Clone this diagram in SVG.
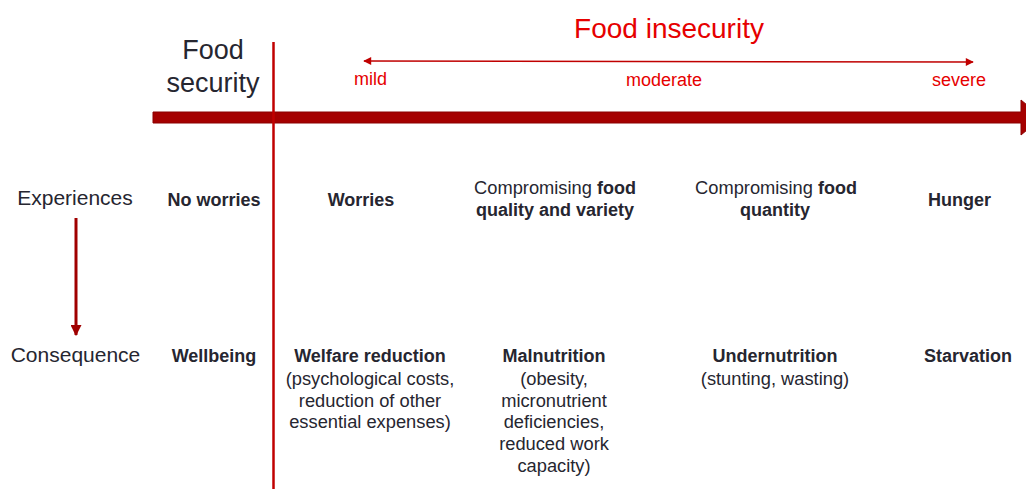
<svg xmlns="http://www.w3.org/2000/svg" width="1026" height="489" viewBox="0 0 1026 489">
<style>
text{font-family:"Liberation Sans",Arial,sans-serif;fill:#262630;text-anchor:middle}
.b{font-weight:bold;font-size:18px}
.r{font-size:18.3px}
.red{fill:#E60000;font-size:18px}
.head{font-size:27px}
.row{font-size:21px}
.thin{stroke:#C00000;stroke-width:1.5;fill:none}
</style>
<defs>
<marker id="ah" viewBox="0 0 10 10" refX="9" refY="5" markerWidth="10" markerHeight="8" markerUnits="userSpaceOnUse" orient="auto-start-reverse">
<path d="M0,0 L10,5 L0,10 z" fill="#C00000"/>
</marker>
<marker id="ahd" viewBox="0 0 10 10" refX="9" refY="5" markerWidth="11" markerHeight="11" markerUnits="userSpaceOnUse" orient="auto">
<path d="M0,0 L10,5 L0,10 z" fill="#A00000"/>
</marker>
</defs>
<rect width="1026" height="489" fill="#fff"/>
<g id="connectors">
<path id="scale-arrow" d="M153,112 L1021,112 L1021,100 L1042,117.5 L1021,135 L1021,123 L153,123 z" fill="#A50000" stroke="#8A0000" stroke-width="1"/>
<line id="divider" x1="273.5" y1="42" x2="273.5" y2="489" stroke="#C00000" stroke-width="2.5"/>
<line id="severity-arrow" x1="364" y1="61" x2="973" y2="62" class="thin" marker-start="url(#ah)" marker-end="url(#ah)"/>
<line id="exp-cons-arrow" x1="76" y1="218" x2="76" y2="335" stroke="#A00000" stroke-width="3" marker-end="url(#ahd)"/>
</g>
<g id="food-insecurity"><text x="669" y="38" class="red" style="font-size:28px">Food insecurity</text></g>
<g id="mild"><text x="370.5" y="85" class="red">mild</text></g>
<g id="moderate"><text x="664" y="86" class="red">moderate</text></g>
<g id="severe"><text x="959" y="86" class="red">severe</text></g>
<g id="food-security"><text x="213" y="59" class="head">Food</text><text x="213" y="92" class="head">security</text></g>
<g id="experiences"><text x="75" y="205" class="row">Experiences</text></g>
<g id="consequence"><text x="75.5" y="362" class="row">Consequence</text></g>
<g id="no-worries"><text x="214" y="206" class="b">No worries</text></g>
<g id="worries"><text x="361" y="206" class="b">Worries</text></g>
<g id="quality"><text x="555" y="194" class="r">Compromising <tspan class="b">food</tspan></text><text x="555" y="216" class="b">quality and variety</text></g>
<g id="quantity"><text x="776" y="194" class="r">Compromising <tspan class="b">food</tspan></text><text x="775" y="216" class="b">quantity</text></g>
<g id="hunger"><text x="959.5" y="206" class="b">Hunger</text></g>
<g id="wellbeing"><text x="214" y="362" class="b">Wellbeing</text></g>
<g id="welfare"><text x="370" y="362" class="b">Welfare reduction</text><text x="370" y="385" class="r">(psychological costs,</text><text x="370" y="407" class="r">reduction of other</text><text x="370" y="428" class="r">essential expenses)</text></g>
<g id="malnutrition"><text x="554" y="362" class="b">Malnutrition</text><text x="554" y="385" class="r">(obesity,</text><text x="554" y="407" class="r">micronutrient</text><text x="554" y="428" class="r">deficiencies,</text><text x="554" y="450" class="r">reduced work</text><text x="554" y="472" class="r">capacity)</text></g>
<g id="undernutrition"><text x="775" y="362" class="b">Undernutrition</text><text x="775" y="385" class="r">(stunting, wasting)</text></g>
<g id="starvation"><text x="968" y="362" class="b">Starvation</text></g>
</svg>
